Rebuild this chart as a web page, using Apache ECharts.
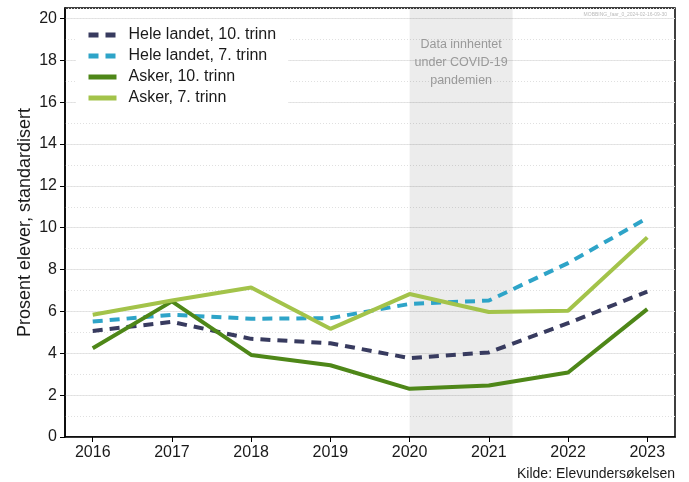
<!DOCTYPE html>
<html>
<head>
<meta charset="utf-8">
<script src="https://cdn.jsdelivr.net/npm/echarts@6/dist/echarts.min.js"></script>
<style>
  html, body { margin: 0; padding: 0; background: #fff; }
  #chart { width: 689px; height: 482px; }
</style>
</head>
<body>
<div id="chart"></div>
<script>
const years = [2016, 2017, 2018, 2019, 2020, 2021, 2022, 2023];
const heleLandet10 = [5.07, 5.5, 4.69, 4.48, 3.77, 4.04, 5.44, 6.95];
const heleLandet7 = [5.52, 5.84, 5.65, 5.68, 6.36, 6.52, 8.31, 10.46];
const asker10 = [4.24, 6.48, 3.92, 3.43, 2.3, 2.46, 3.08, 6.11];
const asker7 = [5.84, 6.52, 7.14, 5.17, 6.83, 5.97, 6.03, 9.54];
const yTicks = [0, 2, 4, 6, 8, 10, 12, 14, 16, 18, 20];
const covidBand = [2020, 2021.3];

const font = "Liberation Sans, Arial, sans-serif";

function pairs(vals) {
  return years.map((y, i) => [y, vals[i]]);
}

const chart = echarts.init(document.getElementById("chart"));

const option = {
  backgroundColor: "#ffffff",
  animation: false,
  textStyle: { fontFamily: font },
  grid: {
    left: 65,
    right: 14,
    top: 8,
    bottom: 45,
    show: true,
    borderColor: "#000",
    borderWidth: 1.5,
    backgroundColor: "transparent",
  },
  legend: {
    orient: "vertical",
    left: 76,
    top: 19,
    itemWidth: 28,
    itemHeight: 14,
    itemGap: 5,
    padding: [8, 12, 8, 10],
    backgroundColor: "#ffffff",
    itemStyle: { opacity: 0 },
    lineStyle: { width: 5 },
    textStyle: { fontSize: 16, lineHeight: 14, color: "#1a1a1a", fontFamily: font, padding: [0, 0, 0, 7] },
    data: ["Hele landet, 10. trinn", "Hele landet, 7. trinn", "Asker, 10. trinn", "Asker, 7. trinn"],
  },
  xAxis: {
    type: "value",
    min: 2015.65,
    max: 2023.35,
    axisLine: { onZero: false, lineStyle: { color: "#000", width: 1.5 } },
    axisTick: { show: true, length: 5, customValues: years, lineStyle: { color: "#000" } },
    axisLabel: {
      customValues: years,
      fontSize: 16,
      color: "#1a1a1a",
      margin: 8,
      formatter: (v) => String(v),
    },
    splitLine: { show: false },
  },
  yAxis: [
    {
      type: "value",
      min: 0,
      max: 20.5,
      interval: 2,
      name: "Prosent elever, standardisert",
      nameLocation: "middle",
      nameGap: 31,
      nameMoveOverlap: false,
      nameTextStyle: { fontSize: 18, color: "#1a1a1a", fontFamily: font },
      axisLine: { show: true, lineStyle: { color: "#000", width: 1.5 } },
      axisTick: { show: true, length: 5, customValues: yTicks, lineStyle: { color: "#000" } },
      axisLabel: { customValues: yTicks, fontSize: 16, color: "#1a1a1a", margin: 8 },
      splitLine: { show: true, lineStyle: { color: "#e6e6e6", width: 1 } },
    },
    {
      type: "value",
      min: 0,
      max: 20.5,
      interval: 1,
      axisLine: { show: false },
      axisTick: { show: false },
      axisLabel: { show: false },
      splitLine: { show: true, lineStyle: { color: "#e0e0e0", width: 1, type: [1, 2] } },
    },
  ],
  series: [
    {
      name: "Hele landet, 10. trinn",
      type: "line",
      symbol: "none",
      data: pairs(heleLandet10),
      color: "#383b5f",
      lineStyle: { width: 4, type: [10, 7], color: "#383b5f" },
      markArea: {
        silent: true,
        itemStyle: { color: "rgba(0,0,0,0.075)" },
        label: {
          show: true,
          position: ["50%", 28],
          align: "center",
          verticalAlign: "top",
          color: "#999999",
          fontSize: 12.5,
          lineHeight: 18,
          fontFamily: font,
          formatter: "Data innhentet\nunder COVID-19\npandemien",
        },
        data: [[{ xAxis: covidBand[0] }, { xAxis: covidBand[1] }]],
      },
    },
    {
      name: "Hele landet, 7. trinn",
      type: "line",
      symbol: "none",
      data: pairs(heleLandet7),
      color: "#2ea4c8",
      lineStyle: { width: 4, type: [10, 7], color: "#2ea4c8" },
    },
    {
      name: "Asker, 10. trinn",
      type: "line",
      symbol: "none",
      data: pairs(asker10),
      color: "#4e8718",
      lineStyle: { width: 4, color: "#4e8718" },
    },
    {
      name: "Asker, 7. trinn",
      type: "line",
      symbol: "none",
      data: pairs(asker7),
      color: "#a3c34a",
      lineStyle: { width: 4, color: "#a3c34a" },
    },
  ],
  graphic: [
    {
      type: "text",
      right: 14,
      top: 467,
      style: { text: "Kilde: Elevundersøkelsen", fontSize: 14, fill: "#1a1a1a", fontFamily: font },
    },
    {
      type: "text",
      right: 22,
      top: 12,
      style: { text: "MOBBING_faar_0_2024-02-16-09-30", fontSize: 5, fill: "#bbbbbb", fontFamily: font },
    },
  ],
};

chart.setOption(option);
</script>
</body>
</html>
